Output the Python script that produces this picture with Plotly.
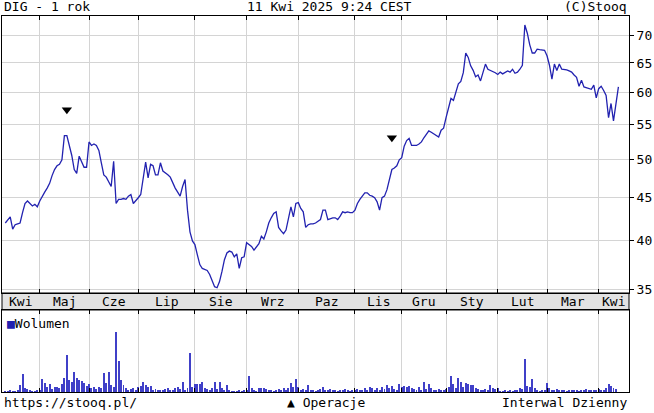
import plotly.graph_objects as go

# daily close, DIG, 11 Apr 2024 .. 10 Apr 2025 (trading-day index)
close = [
    42.0, 42.4, 42.7, 41.3, 41.8, 41.9, 42.0, 43.2, 44.3, 44.6,
    44.3, 44.0, 44.2, 43.9, 44.6, 45.2, 45.7, 46.2, 46.8, 47.8,
    48.6, 49.1, 49.3, 49.9, 53.3, 53.3, 52.0, 50.5, 48.6, 48.1,
    50.4, 49.6, 48.9, 48.9, 52.4, 51.9, 52.1, 51.9, 51.2, 49.5,
    47.9, 47.6, 47.0, 46.4, 49.7, 44.3, 44.8, 44.8, 44.9, 44.8,
    45.2, 45.4, 44.3, 44.6, 45.0, 45.4, 47.5, 49.6, 47.5, 49.3,
    49.1, 47.9, 47.9, 49.5, 48.4, 48.2, 47.9, 47.6, 46.8, 46.2,
    45.7, 45.2, 46.4, 47.3, 43.5, 41.0, 40.0, 39.6, 38.5, 37.5,
    37.1, 37.0, 36.9, 36.5, 35.8, 35.3, 35.2, 35.8, 36.8, 38.0,
    38.7, 38.9, 38.8, 38.3, 38.6, 37.1, 38.2, 38.3, 39.8, 39.6,
    39.4, 39.0, 39.3, 39.7, 40.5, 40.2, 41.0, 42.0, 42.6, 43.1,
    43.3, 41.5, 41.1, 40.8, 41.2, 42.5, 43.9, 42.7, 44.3, 44.4,
    43.7, 43.3, 41.5, 41.8, 41.9, 41.9, 42.0, 42.2, 42.4, 43.5,
    43.5, 42.4, 42.5, 42.6, 42.6, 42.4, 42.8, 43.3, 43.2, 43.3,
    43.2, 43.2, 43.5, 44.3, 44.8, 45.2, 45.6, 45.6, 45.3, 45.2,
    45.0, 44.5, 43.5, 45.0, 45.2, 46.0, 47.2, 48.6, 48.8, 49.1,
    49.9, 50.2, 51.8, 52.6, 52.9, 51.9, 51.9, 51.9, 52.1, 52.4,
    53.0, 53.6, 54.0, 53.8, 53.6, 53.3, 53.1, 54.1, 54.4, 56.0,
    57.5, 59.0, 58.7, 60.1, 61.4, 61.8, 63.3, 66.8, 66.0, 64.5,
    63.7, 62.6, 62.9, 61.9, 63.3, 64.8, 63.9, 63.7, 63.6, 63.3,
    63.0, 63.4, 63.1, 63.3, 63.6, 63.4, 63.9, 63.2, 63.4, 63.9,
    64.6, 72.1, 70.5, 68.3, 66.8, 66.8, 67.5, 67.4, 67.4, 67.3,
    66.3, 64.6, 62.2, 64.8, 63.7, 64.8, 63.9, 63.9, 63.8, 63.6,
    63.4, 62.9, 62.5, 61.0, 62.0, 60.9, 60.8, 60.6, 60.5, 61.2,
    59.1, 60.6, 61.0, 60.3, 59.5, 56.0, 58.2, 55.5, 58.0, 60.9,
]

# volume, relative units (max = 100)
volume = [
    2, 2, 3, 2, 2, 3, 12, 30, 6, 5,
    3, 2, 2, 3, 4, 22, 15, 8, 14, 5,
    8, 9, 6, 14, 23, 61, 20, 17, 33, 23,
    20, 18, 15, 10, 14, 7, 9, 5, 8, 6,
    31, 15, 33, 11, 8, 100, 51, 20, 11, 6,
    4, 5, 7, 3, 8, 10, 16, 11, 8, 10,
    4, 5, 3, 4, 3, 5, 7, 3, 4, 6,
    9, 5, 16, 3, 6, 65, 9, 13, 14, 13,
    16, 7, 5, 4, 6, 16, 5, 16, 7, 4,
    12, 3, 2, 2, 2, 3, 2, 3, 4, 26,
    7, 3, 2, 7, 6, 7, 5, 3, 4, 2,
    3, 5, 4, 6, 4, 6, 15, 8, 22, 8,
    3, 5, 3, 11, 3, 4, 2, 3, 5, 9,
    4, 3, 5, 4, 3, 2, 4, 3, 5, 3,
    2, 4, 3, 5, 4, 3, 6, 4, 8, 7,
    3, 7, 4, 9, 5, 11, 7, 10, 5, 4,
    13, 8, 10, 9, 10, 7, 5, 4, 8, 3,
    16, 5, 14, 6, 4, 3, 5, 4, 3, 5,
    8, 27, 14, 6, 23, 17, 8, 15, 13, 11,
    11, 7, 5, 3, 4, 5, 3, 11, 7, 5,
    7, 2, 2, 3, 2, 3, 2, 3, 4, 7,
    5, 55, 10, 8, 22, 7, 3, 2, 3, 4,
    15, 7, 4, 3, 5, 3, 4, 3, 2, 4,
    3, 4, 3, 2, 4, 3, 5, 3, 4, 3,
    4, 5, 3, 4, 7, 13, 10, 7, 5,
]

# first trading day of each month (index)
month_starts = [14, 34, 54, 77, 98, 119, 142, 161, 179, 200, 220, 241]
month_labels = ["Kwi", "Maj", "Cze", "Lip", "Sie", "Wrz", "Paz", "Lis",
                "Gru", "Sty", "Lut", "Mar", "Kwi"]

# operations (sell markers)
op_idx = [25, 157]
op_price = [57.2, 53.0]

price_ticks = [35, 40, 45, 50, 55, 60, 65, 70]

FONT = "DejaVu Sans Mono"
LINE = "#2222b0"
GRID = "#d4d4d4"

x = list(range(len(close)))
x_rng = [-1.34, 253.3]

fig = go.Figure()
fig.add_trace(go.Scatter(x=x, y=close, mode="lines", line=dict(color=LINE, width=1.3),
                         xaxis="x", yaxis="y", hoverinfo="skip"))
fig.add_trace(go.Scatter(x=op_idx, y=op_price, mode="markers",
                         marker=dict(symbol="triangle-down", size=9, color="black"),
                         xaxis="x", yaxis="y", hoverinfo="skip"))
fig.add_trace(go.Bar(x=x, y=volume, width=0.4, marker=dict(color="#4040c8", line=dict(width=0)),
                     xaxis="x2", yaxis="y2", hoverinfo="skip"))

edges = [x_rng[0]] + month_starts + [x_rng[1]]
annotations = []
for i, lab in enumerate(month_labels):
    annotations.append(dict(x=(edges[i] + edges[i + 1]) / 2, y=0.2407, xref="x", yref="paper",
                            text=lab, showarrow=False, yanchor="middle",
                            font=dict(family=FONT, size=13, color="black")))

def txt(t, xp, yp, anchor):
    return dict(x=xp, y=yp, xref="paper", yref="paper", text=t, showarrow=False,
                xanchor=anchor, yanchor="middle", font=dict(family=FONT, size=13, color="black"))

annotations += [
    txt("DIG - 1 rok", 0, 1.024, "left"),
    txt("11 Kwi 2025 9:24 CEST", 0.523, 1.024, "center"),
    txt("(C)Stooq", 1, 1.024, "right"),
    txt("https://stooq.pl/", 0, -0.027, "left"),
    txt("▲ Operacje", 0.516, -0.027, "center"),
    txt("Interwal Dzienny", 1, -0.027, "right"),
    txt("<span style='color:#2222b0'>■</span>Wolumen", 0.004, 0.1835, "left"),
]

fig.update_layout(
    width=654, height=413,
    margin=dict(l=2, r=25, t=16, b=21),
    paper_bgcolor="white", plot_bgcolor="white",
    showlegend=False, bargap=0,
    font=dict(family=FONT, size=13, color="black"),
    xaxis=dict(domain=[0, 1], range=x_rng, anchor="y", tickvals=month_starts,
               showticklabels=False, showgrid=True, gridcolor=GRID, gridwidth=1,
               ticks="inside", ticklen=4, tickcolor="black",
               showline=True, linecolor="black", linewidth=1, mirror="ticks", zeroline=False),
    yaxis=dict(domain=[0.2633, 1], type="log", range=[1.5403, 1.8686], side="right",
               tickvals=price_ticks, ticktext=[str(v) for v in price_ticks],
               ticks="outside", ticklen=4, tickcolor="black",
               showgrid=True, gridcolor=GRID, gridwidth=1,
               showline=True, linecolor="black", linewidth=1, mirror=True, zeroline=False),
    xaxis2=dict(domain=[0, 1], range=x_rng, anchor="y2", tickvals=month_starts,
                showticklabels=False, showgrid=True, gridcolor=GRID, gridwidth=1,
                ticks="inside", ticklen=4, tickcolor="black",
                showline=True, linecolor="black", linewidth=1, mirror="ticks", zeroline=False),
    yaxis2=dict(domain=[0, 0.2181], range=[0, 136.7], showticklabels=False, ticks="",
                showgrid=False, showline=True, linecolor="black", linewidth=1, mirror=True,
                zeroline=False),
    shapes=[dict(type="rect", xref="paper", yref="paper", x0=0, x1=1, y0=0.2181, y1=0.2633,
                 fillcolor="#e2e2e2", line=dict(color="black", width=1), layer="below")],
    annotations=annotations,
)

# the page's default body margin would shift the 654x413 figure
fig.write_html("out.html", config={"displayModeBar": False},
               post_script="document.body.style.margin='0';")
